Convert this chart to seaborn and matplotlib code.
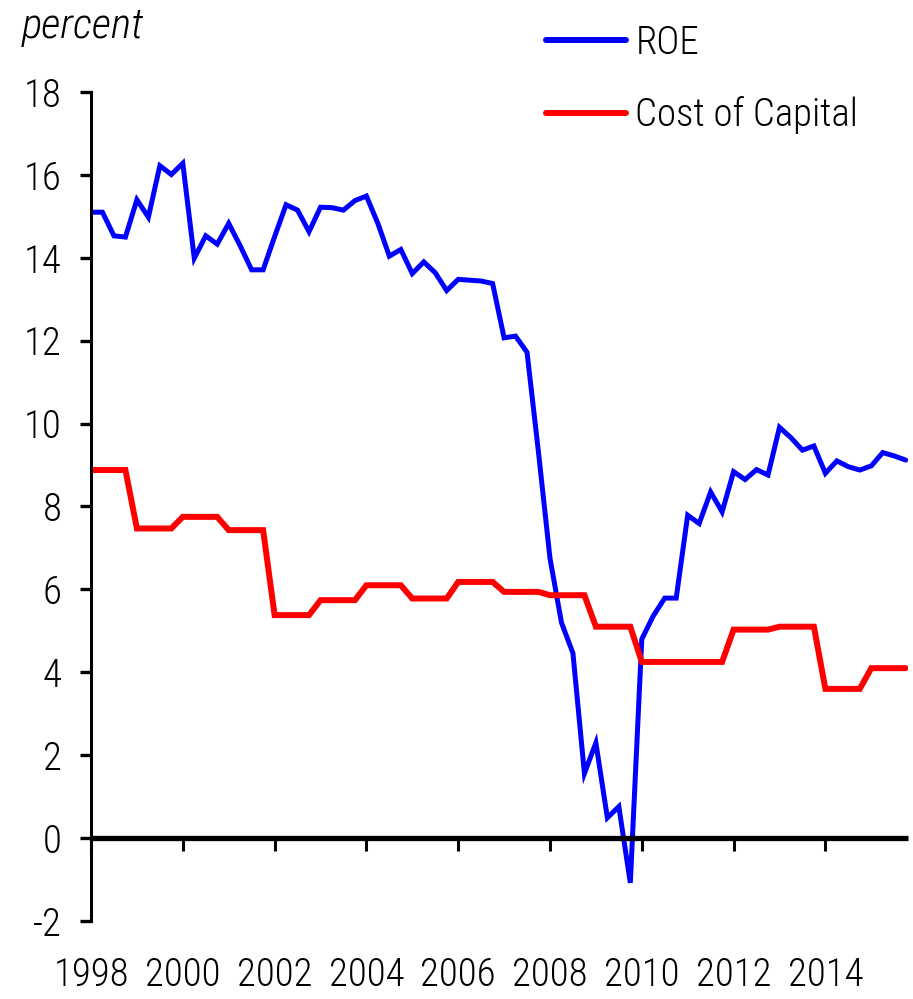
import matplotlib
matplotlib.use("Agg")
import matplotlib.pyplot as plt
import seaborn as sns
import numpy as np
import pandas as pd
from matplotlib.lines import Line2D

# ---- data (quarterly, 1998Q1 .. 2015Q4) ----
start_year = 1998.0
roe = [15.1, 15.1, 14.53, 14.5, 15.4, 14.98, 16.22, 16.01,
       16.28, 13.99, 14.53, 14.33, 14.83, 14.29, 13.71, 13.71,
       14.51, 15.28, 15.15, 14.63, 15.22, 15.21, 15.15, 15.38,
       15.49, 14.83, 14.04, 14.2, 13.62, 13.9, 13.64, 13.21,
       13.48, 13.46, 13.44, 13.38, 12.07, 12.11, 11.72, 9.3,
       6.75, 5.2, 4.46, 1.56, 2.3, 0.49, 0.76, -1.08,
       4.8, 5.36, 5.79, 5.79, 7.79, 7.59, 8.35, 7.87,
       8.84, 8.65, 8.89, 8.76, 9.91, 9.66, 9.36, 9.46,
       8.8, 9.1, 8.96, 8.88, 8.98, 9.3, 9.22, 9.12]
coc = [8.88, 8.88, 8.88, 8.88, 7.47, 7.47, 7.47, 7.47,
       7.75, 7.75, 7.75, 7.75, 7.43, 7.43, 7.43, 7.43,
       5.38, 5.38, 5.38, 5.38, 5.74, 5.74, 5.74, 5.74,
       6.1, 6.1, 6.1, 6.1, 5.78, 5.78, 5.78, 5.78,
       6.18, 6.18, 6.18, 6.18, 5.94, 5.94, 5.94, 5.94,
       5.86, 5.86, 5.86, 5.86, 5.1, 5.1, 5.1, 5.1,
       4.25, 4.25, 4.25, 4.25, 4.25, 4.25, 4.25, 4.25,
       5.03, 5.03, 5.03, 5.03, 5.1, 5.1, 5.1, 5.1,
       3.6, 3.6, 3.6, 3.6, 4.1, 4.1, 4.1, 4.1]
series_names = ["ROE", "Cost of Capital"]
series_colors = ["#0000FF", "#FF0000"]
xtick_years = [1998, 2000, 2002, 2004, 2006, 2008, 2010, 2012, 2014]
ytick_vals = [-2, 0, 2, 4, 6, 8, 10, 12, 14, 16, 18]

t = start_year + np.arange(len(roe)) * 0.25
df = pd.DataFrame({
    "t": np.concatenate([t, t]),
    "value": roe + coc,
    "series": [series_names[0]] * len(roe) + [series_names[1]] * len(coc),
})

sns.set_theme(style="white")
plt.rcParams["font.family"] = ["Roboto Condensed", "Open Sans Condensed",
                               "Noto Sans Condensed", "Liberation Sans Narrow",
                               "DejaVu Sans Condensed", "Roboto", "DejaVu Sans"]
plt.rcParams["font.stretch"] = "condensed"
plt.rcParams["font.weight"] = "light"
plt.rcParams["text.color"] = "black"
plt.rcParams["xtick.color"] = "black"
plt.rcParams["ytick.color"] = "black"

FS = 28
fig = plt.figure(figsize=(9.13, 9.99), dpi=100)
ax = fig.add_axes([91 / 913, 1 - 921 / 999, (908 - 91) / 913, (921 - 92) / 999])

sns.lineplot(data=df, x="t", y="value", hue="series", palette=series_colors,
             hue_order=series_names, ax=ax, legend=False, sort=False)
lws = [3.6, 4.3]
for line, lw in zip(ax.get_lines(), lws):
    line.set_linewidth(lw)
    line.set_solid_joinstyle("miter")

ax.set_xlim(1998, 2015.8)
ax.set_ylim(-2, 18)
ax.set_xticks(xtick_years)
ax.set_xticklabels([str(y) for y in xtick_years])
ax.set_yticks(ytick_vals)
ax.set_yticklabels([str(v) for v in ytick_vals])
ax.set_xlabel("")
ax.set_ylabel("")

for s in ["top", "right"]:
    ax.spines[s].set_visible(False)
ax.spines["left"].set_linewidth(2.2)
ax.spines["left"].set_color("black")
ax.spines["bottom"].set_position(("data", 0))
ax.spines["bottom"].set_linewidth(3.8)
ax.spines["bottom"].set_color("black")
ax.spines["bottom"].set_capstyle("butt")

ax.tick_params(axis="y", direction="out", length=8, width=2.4, colors="black",
               labelsize=FS, pad=13, left=True)
ax.tick_params(axis="x", direction="out", length=9, width=2.2, colors="black",
               labelsize=FS, pad=76, bottom=True)
ax.grid(False)
ax.set_facecolor("white")

handles = [Line2D([], [], color=c, lw=4.3, solid_capstyle="round") for c in series_colors]
fig.legend(handles, series_names, loc="upper left",
           bbox_to_anchor=(546 / 913, 1 - 24 / 999), frameon=False,
           fontsize=FS, handlelength=2.05, handletextpad=0.25,
           labelspacing=0.9, borderpad=0, borderaxespad=0)

fig.text(22 / 913, 1 - 6 / 999, "percent", fontsize=31, style="italic",
         ha="left", va="top")

fig.savefig("out.png", dpi=100, facecolor="white")
